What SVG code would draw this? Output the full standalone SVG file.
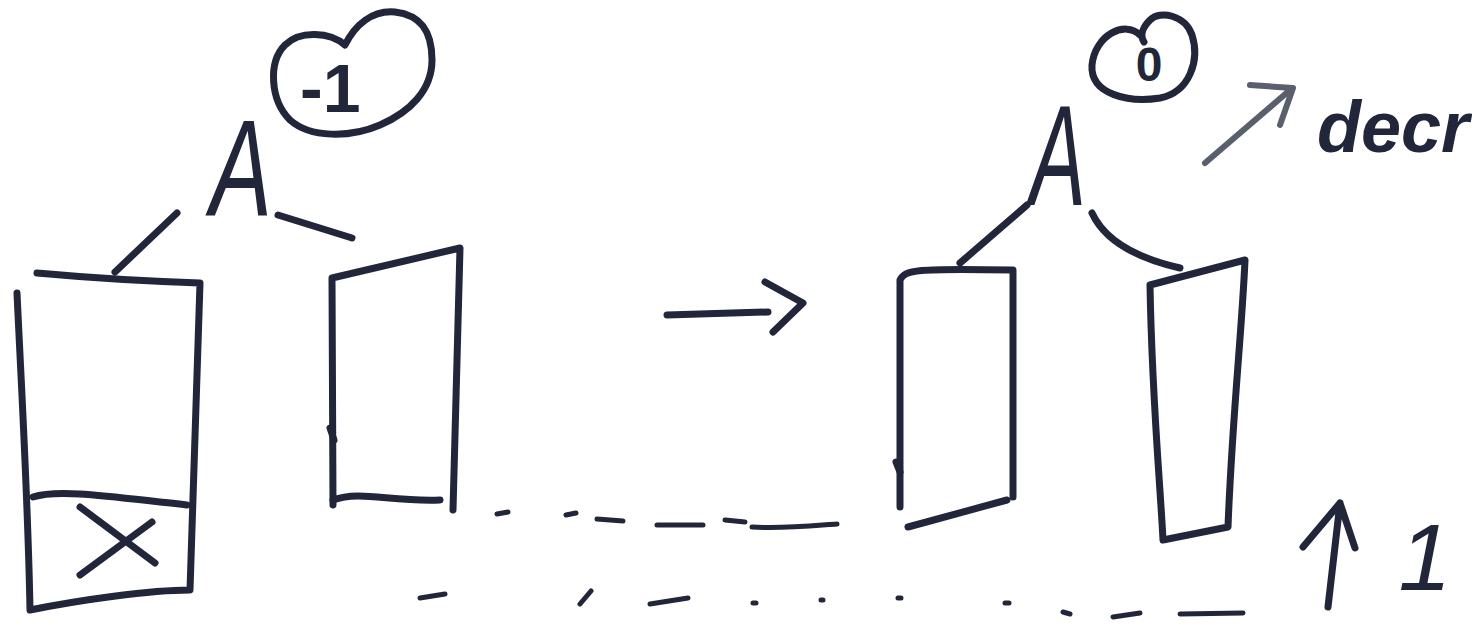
<svg xmlns="http://www.w3.org/2000/svg" width="1472" height="624" viewBox="0 0 1472 624">
<style>
.ink{fill:none;stroke:#22263a;stroke-width:7;stroke-linecap:round;stroke-linejoin:round}
.thin{fill:none;stroke:#22263a;stroke-width:5;stroke-linecap:round}
.gray{fill:none;stroke:#5a5f6e;stroke-width:6;stroke-linecap:round;stroke-linejoin:round}
.lbl{font-family:"Liberation Sans",Arial,sans-serif;fill:#22263a}
</style>
<rect width="1472" height="624" fill="#ffffff"/>

<g id="node-A-left">
  <text class="lbl" x="210" y="216" font-size="138" font-style="italic" textLength="62" lengthAdjust="spacingAndGlyphs">A</text>
  <path class="ink" d="M345,45 C330,32 300,30 285,45 C268,62 270,100 290,120 C310,138 350,138 380,125 C410,112 432,90 432,60 C432,30 420,15 395,12 C372,10 355,25 345,45 Z"/>
  <text class="lbl" x="300" y="112" font-size="68" font-weight="bold">-1</text>
</g>

<g id="node-box-1">
  <path class="ink" d="M37,273 C70,276 110,280 200,283 L190,590 C150,590 80,600 30,610 C28,500 22,400 17,293"/>
  <path class="ink" d="M33,497 C60,488 120,498 187,505"/>
  <path class="ink" d="M80,507 L155,563 M152,522 L80,575"/>
</g>

<g id="node-box-2">
  <path class="ink" d="M333,505 L332,278 L460,248 L453,510"/>
  <path class="ink" d="M333,500 C360,490 390,502 440,500"/>
  <path class="ink" d="M330,428 L334,440"/>
</g>

<g id="node-A-right">
  <text class="lbl" x="1030" y="205" font-size="142" font-style="italic" textLength="56" lengthAdjust="spacingAndGlyphs">A</text>
  <path class="ink" d="M1140,35 C1125,20 1095,35 1092,65 C1090,95 1130,103 1160,98 C1190,92 1200,60 1192,35 C1185,15 1160,10 1150,20 C1142,28 1140,36 1144,42"/>
  <text class="lbl" x="1149" y="81" font-size="48" font-weight="bold" text-anchor="middle">0</text>
</g>

<g id="node-box-3">
  <path class="ink" d="M900,507 L900,280 C905,270 915,268 1013,270 L1013,497"/>
  <path class="ink" d="M908,527 L1007,500"/>
  <path class="ink" d="M896,462 L900,472"/>
</g>

<g id="node-box-4">
  <path class="ink" d="M1150,285 L1245,260 C1242,330 1232,420 1228,527 L1163,540 C1160,480 1152,400 1150,285"/>
</g>

<g id="label-decr">
  <path class="gray" d="M1205,163 L1290,90 M1250,85 L1293,88 L1280,125"/>
  <text class="lbl" x="1317" y="152" font-size="72" font-weight="bold" font-style="italic">decr</text>
</g>

<g id="label-up-1">
  <path class="ink" d="M1328,607 L1340,503 M1303,547 L1340,503 L1355,548"/>
  <text class="lbl" x="1425" y="590" font-size="95" font-style="italic" text-anchor="middle">1</text>
</g>

<g id="connectors">
  <path class="ink" d="M115,272 L177,213"/>
  <path class="ink" d="M278,215 L352,238"/>
  <path class="ink" d="M960,263 L1027,205"/>
  <path class="ink" d="M1092,213 Q1110,252 1180,268"/>
  <path class="ink" d="M667,315 L768,312 M765,282 L803,303 L773,332"/>
</g>

<g id="levels">
  <path class="thin" d="M497,514 L508,512 M566,515 L576,513 M597,519 L623,521 M657,525 L703,525 M725,520 L745,522 M752,527 C780,529 810,526 837,524"/>
  <path class="thin" d="M420,598 L445,594 M580,604 L591,591 M650,604 L688,598 M753,603 L756,603 M821,600 L823,600 M898,598 L901,598 M1005,603 L1009,603 M1063,612 L1070,614 M1113,617 L1140,613 M1180,614 L1243,613"/>
</g>
</svg>
